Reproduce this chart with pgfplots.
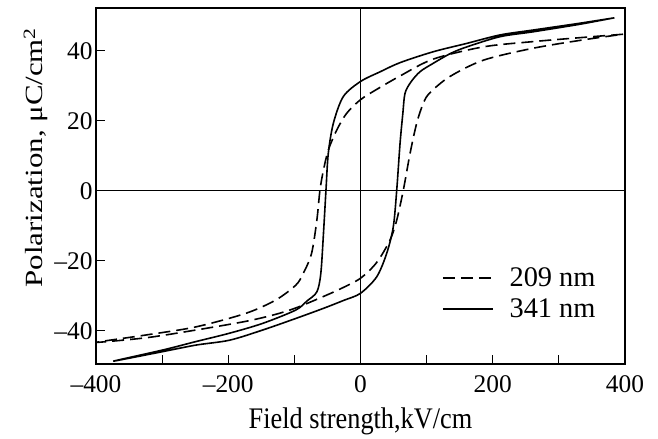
\documentclass[border=0pt]{standalone}
\usepackage{fontspec}
\setmainfont{Liberation Serif}
\usepackage{graphicx}
\usepackage{pgfplots}
\pgfplotsset{compat=1.18}

\newcommand\tickfont{\fontsize{25.5}{30}\selectfont}
\newcommand\legfont{\fontsize{28.5}{33}\selectfont}

\begin{document}
\begin{tikzpicture}
\path (-96bp,-73bp) rectangle (562bp,364bp);
\begin{axis}[
    width=529bp, height=356bp, scale only axis,
    xmin=-400, xmax=400, ymin=-49.5, ymax=52.2,
    axis line style={line width=1.4bp},
    tick align=inside, xtick pos=bottom, ytick pos=left,
    major tick length=9bp,
    tick style={line width=1.2bp, black},
    xtick={-400,-300,...,400},
    xticklabels={--400,{},--200,{},0,{},200,{},400},
    ytick={-40,-20,0,20,40},
    yticklabels={--40,--20,0,20,40},
    tick label style={font=\tickfont},
    xticklabel style={yshift=-8bp},
    xlabel={\fontsize{30}{34}\selectfont\scalebox{0.88}[1]{Field strength,kV/cm}},
    xlabel style={yshift=-8bp},
    ylabel={\fontsize{31}{35}\selectfont\scalebox{1}[0.8]{Polarization, μC/cm\textsuperscript{2}}},
    ylabel style={at={(ticklabel cs:0.58)}, xshift=0bp},
    legend style={draw=none, fill=none, at={(0.648,0.282)}, anchor=north west,
      font=\legfont, row sep=7bp,
      /tikz/every odd column/.append style={column sep=14bp}},
    legend cell align=left,
    legend image code/.code={\draw[#1] (0bp,0bp) -- (50bp,0bp);},
]
\draw[line width=1bp] (axis cs:0,-49.5) -- (axis cs:0,52.2);
\draw[line width=1bp] (axis cs:-400,0) -- (axis cs:400,0);

% 209 nm: upper branch (field falling), then lower branch (field rising)
\addplot[black, line width=1.6bp, dash pattern=on 12bp off 6bp, smooth, tension=0.5] coordinates {
  (397,44.7) (337,43.8) (261,42.6) (186,41.1) (110,37.6) (60,32.8) (25,29)
  (0,26) (-21,22.1) (-36,17.3) (-48.7,11.6) (-56,5.9) (-61.3,0.2) (-66,-8.4)
  (-74,-17.9) (-86.5,-23.6) (-98,-27) (-128,-31.2) (-173,-35) (-249,-38.9)
  (-324,-41.2) (-399,-43.3)
  (-324,-42) (-249,-39.8) (-173,-37.3) (-128,-35.3) (-98,-33.5) (-62,-30.7)
  (-30,-28) (0,-25) (24.5,-20.5) (44.6,-14.1) (54.8,-8.4) (64.8,0.2) (75,10.7)
  (85,19.3) (95,25) (105,28) (135,32.6) (186,37.3) (261,40.7) (337,43.1) (397,44.7)
};
\addlegendentry{209 nm}

% 341 nm
\addplot[black, line width=1.6bp, smooth, tension=0.5] coordinates {
  (384,49.4) (330,47.8) (261,45.9) (211,44.5) (161,42.1) (110,39.7) (60,36.6)
  (30,34) (0,31.2) (-26,26.9) (-41,19.3) (-48.7,10.7) (-52.2,0.2) (-56,-12.2)
  (-60,-23.6) (-66,-28.9) (-81,-31.5) (-98,-34.1) (-148,-37.9) (-198,-40.7)
  (-249,-43.1) (-299,-45.5) (-374,-48.7)
  (-300,-46) (-249,-44.1) (-198,-42.7) (-148,-39.8) (-98,-36.5) (-56,-33.6)
  (-25,-31.3) (0,-29.3) (24.5,-24.6) (39.6,-17.9) (49.6,-10.3) (54.8,0.2)
  (59.8,13.5) (64,22) (67.3,27.8) (76,31) (90,34) (110,36.4) (136,39.2)
  (161,41.1) (211,44) (261,45.4) (330,47.5) (384,49.4)
};
\addlegendentry{341 nm}
\end{axis}
\end{tikzpicture}
\end{document}
